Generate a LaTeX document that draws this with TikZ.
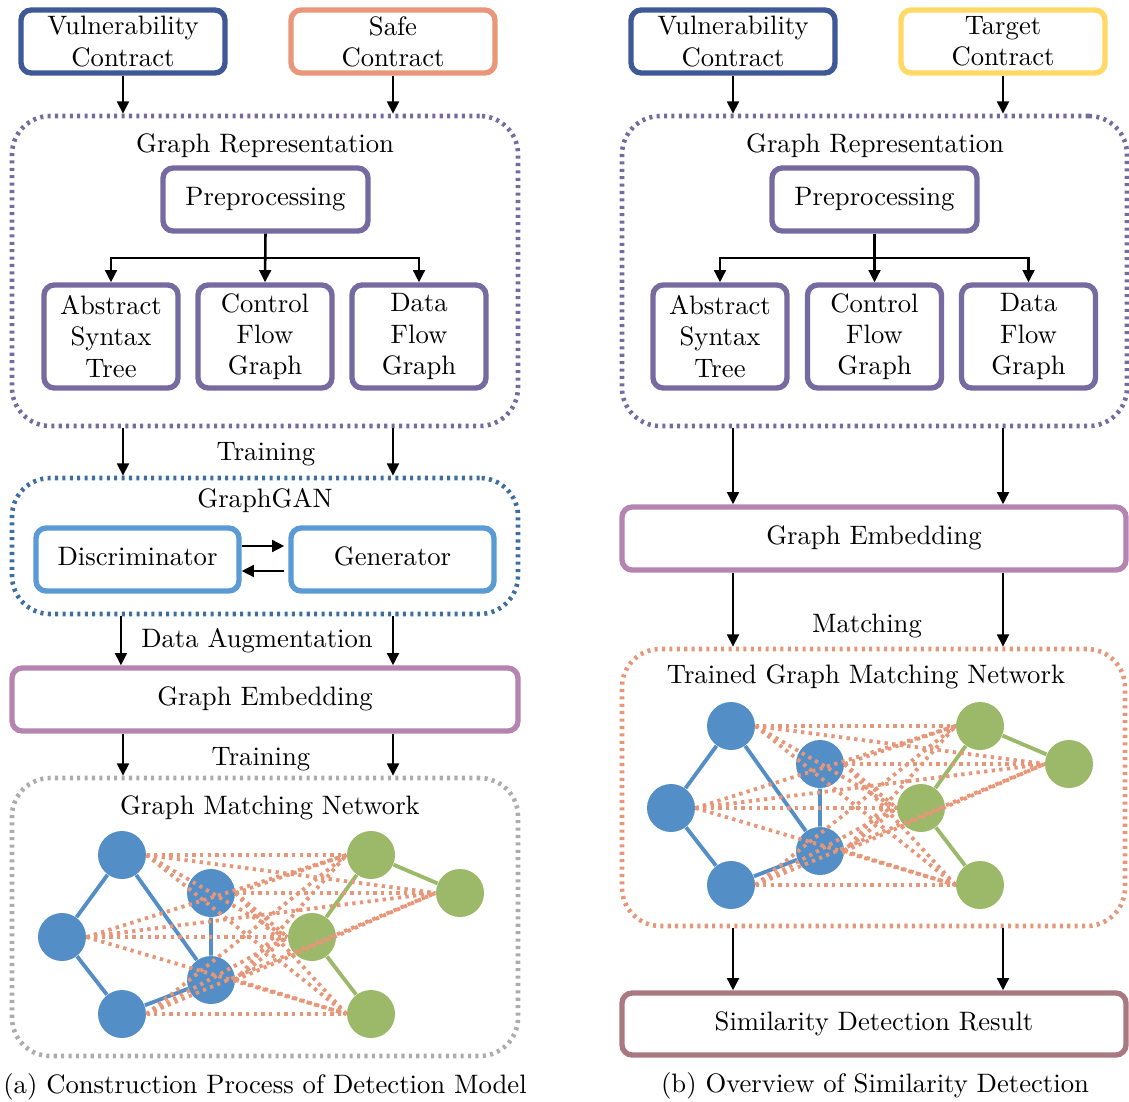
\documentclass[tikz,border=0pt]{standalone}
\usetikzlibrary{arrows.meta}

\definecolor{vulnblue}{RGB}{62,89,150}
\definecolor{safeorange}{RGB}{233,150,122}
\definecolor{targetyellow}{RGB}{255,217,102}
\definecolor{reppurple}{RGB}{118,107,160}
\definecolor{ganblue}{RGB}{62,110,160}
\definecolor{discblue}{RGB}{91,155,213}
\definecolor{embpink}{RGB}{181,132,176}
\definecolor{gmngray}{RGB}{172,172,172}
\definecolor{trainorange}{RGB}{232,150,120}
\definecolor{resultmauve}{RGB}{170,120,128}
\definecolor{nodeblue}{RGB}{83,142,198}
\definecolor{nodegreen}{RGB}{155,185,105}

% one drawing unit
\newlength\pxl
\setlength\pxl{0.392pt}

\tikzset{
  box/.style={draw, line width=2.1pt, rounded corners=4pt, fill=white, align=center,
    inner sep=0pt, text height=7pt, text depth=2pt},
  mlbox/.style={draw, line width=2.1pt, rounded corners=4pt, fill=white, align=center,
    inner sep=0pt},
  group/.style={draw, line width=1.8pt, rounded corners=15pt, fill=white,
    dash pattern=on 1.2pt off 1.7pt, inner sep=0pt},
  arr/.style={line width=1pt, -{Triangle[length=4.8pt,width=4.6pt]}},
  lbl/.style={anchor=base, inner sep=0pt},
  bnode/.style={circle, fill=nodeblue, inner sep=0pt, minimum size=48*\pxl},
  gnode/.style={circle, fill=nodegreen, inner sep=0pt, minimum size=48*\pxl},
  bedge/.style={draw=nodeblue, line width=1.5pt},
  gedge/.style={draw=nodegreen, line width=1.5pt},
  medge/.style={draw=trainorange, line width=1.5pt, dash pattern=on 1.3pt off 1.7pt},
}

% matching network graph: name prefix, x offset, y offset
\newcommand\matchnet[3]{%
  \begin{scope}[shift={(#2,#3)}]
    \node[bnode] (#1b1) at (122,855) {};
    \node[bnode] (#1b2) at (62,937) {};
    \node[bnode] (#1b3) at (122,1014) {};
    \node[bnode] (#1b4) at (211,893) {};
    \node[bnode] (#1b5) at (211,980) {};
    \node[gnode] (#1g1) at (371,855) {};
    \node[gnode] (#1g2) at (460,893) {};
    \node[gnode] (#1g3) at (312,937) {};
    \node[gnode] (#1g4) at (371,1014) {};
    \draw[bedge] (#1b1) -- (#1b2) (#1b2) -- (#1b3) (#1b1) -- (#1b5)
                 (#1b4) -- (#1b5) (#1b3) -- (#1b5);
    \draw[gedge] (#1g1) -- (#1g2) (#1g1) -- (#1g3) (#1g3) -- (#1g4);
    \foreach \b in {1,...,5}{
      \foreach \g in {1,...,4}{
        \draw[medge] (#1b\b.east) -- (#1g\g.west);
      }
    }
  \end{scope}}

\begin{document}
\begin{tikzpicture}[x=0.392pt, y=-0.392pt, font=\fontsize{10.45}{12.2}\selectfont]
\useasboundingbox (0,0) rectangle (1129,1101);

%% ---------------- (a) construction of the detection model ----------------
\node[mlbox, draw=vulnblue, minimum width=204*\pxl, minimum height=63*\pxl] (vcA) at (123,41.5) {Vulnerability\\Contract};
\node[mlbox, draw=safeorange, minimum width=204*\pxl, minimum height=63*\pxl] (sc) at (393,41.5) {Safe\\Contract};

\node[group, draw=reppurple, minimum width=506*\pxl, minimum height=310*\pxl] (grA) at (265,271) {};
\node[lbl] (grAt) at (265,152) {Graph Representation};
\node[box, draw=reppurple, minimum width=205*\pxl, minimum height=63*\pxl] (preA) at (265.5,199.5) {Preprocessing};
\node[mlbox, draw=reppurple, minimum width=134*\pxl, minimum height=103*\pxl] (astA) at (111,336.5) {Abstract\\Syntax\\Tree};
\node[mlbox, draw=reppurple, minimum width=134*\pxl, minimum height=103*\pxl] (cfgA) at (265,336.5) {Control\\Flow\\Graph};
\node[mlbox, draw=reppurple, minimum width=134*\pxl, minimum height=103*\pxl] (dfgA) at (419,336.5) {Data\\Flow\\Graph};
\coordinate (brA) at (265.5,258);
\draw[arr] (preA.south) -- (cfgA.north);
\draw[arr] (brA) -| (astA.north);
\draw[arr] (brA) -| (dfgA.north);

\draw[arr] (vcA.south) -- (vcA.south |- grA.north);
\draw[arr] (sc.south) -- (sc.south |- grA.north);

\node[group, draw=ganblue, minimum width=506*\pxl, minimum height=136*\pxl] (gan) at (265,546) {};
\node[lbl] (gant) at (265,507) {GraphGAN};
\node[box, draw=discblue, minimum width=203*\pxl, minimum height=63*\pxl] (disc) at (137.5,559.5) {Discriminator};
\node[box, draw=discblue, minimum width=203*\pxl, minimum height=63*\pxl] (gen) at (392.5,559.5) {Generator};
\draw[arr, shorten >=4*\pxl] ([yshift=5.3pt]disc.east) -- ([yshift=5.3pt]gen.west);
\draw[arr, shorten <=4*\pxl] ([yshift=-4.5pt]gen.west) -- ([yshift=-4.5pt]disc.east);

\node[lbl] (trA1) at (266,460) {Training};
\draw[arr] (grA.south -| vcA.south) -- (gan.north -| vcA.south);
\draw[arr] (grA.south -| sc.south) -- (gan.north -| sc.south);

\node[box, draw=embpink, minimum width=506*\pxl, minimum height=63*\pxl] (embA) at (265,699.5) {Graph Embedding};
\node[lbl] (aug) at (257,647) {Data Augmentation};
\draw[arr] ([xshift=-0.8pt]gan.south -| vcA.south) -- ([xshift=-0.8pt]embA.north -| vcA.south);
\draw[arr] (gan.south -| sc.south) -- (embA.north -| sc.south);

\node[group, draw=gmngray, minimum width=506*\pxl, minimum height=278*\pxl] (gmn) at (265,917) {};
\node[lbl] (gmnt) at (270,814) {Graph Matching Network};
\node[lbl] (trA2) at (261,765) {Training};
\draw[arr] (embA.south -| vcA.south) -- (gmn.north -| vcA.south);
\draw[arr] (embA.south -| sc.south) -- (gmn.north -| sc.south);
\matchnet{L}{0}{0}

\node[lbl] (capA) at (265,1093) {(a) Construction Process of Detection Model};

%% ---------------- (b) similarity detection ----------------
\node[mlbox, draw=vulnblue, minimum width=204*\pxl, minimum height=63*\pxl] (vcB) at (733,41.5) {Vulnerability\\Contract};
\node[mlbox, draw=targetyellow, minimum width=204*\pxl, minimum height=63*\pxl] (tc) at (1003,41.5) {Target\\Contract};

\node[group, draw=reppurple, minimum width=505*\pxl, minimum height=310*\pxl] (grB) at (874.5,271) {};
\node[lbl] (grBt) at (875,152) {Graph Representation};
\node[box, draw=reppurple, minimum width=205*\pxl, minimum height=63*\pxl] (preB) at (874.5,199.5) {Preprocessing};
\node[mlbox, draw=reppurple, minimum width=134*\pxl, minimum height=103*\pxl] (astB) at (720,336.5) {Abstract\\Syntax\\Tree};
\node[mlbox, draw=reppurple, minimum width=134*\pxl, minimum height=103*\pxl] (cfgB) at (874.5,336.5) {Control\\Flow\\Graph};
\node[mlbox, draw=reppurple, minimum width=134*\pxl, minimum height=103*\pxl] (dfgB) at (1028.5,336.5) {Data\\Flow\\Graph};
\coordinate (brB) at (874.5,258);
\draw[arr] (preB.south) -- (cfgB.north);
\draw[arr] (brB) -| (astB.north);
\draw[arr] (brB) -| (dfgB.north);

\draw[arr] (vcB.south) -- (vcB.south |- grB.north);
\draw[arr] (tc.south) -- (tc.south |- grB.north);

\node[box, draw=embpink, minimum width=504*\pxl, minimum height=63*\pxl] (embB) at (874,538.5) {Graph Embedding};
\draw[arr] (grB.south -| vcB.south) -- (embB.north -| vcB.south);
\draw[arr] (grB.south -| tc.south) -- (embB.north -| tc.south);

\node[group, draw=trainorange, minimum width=503*\pxl, minimum height=277*\pxl] (tgmn) at (873.5,787.5) {};
\node[lbl] (tgmnt) at (866,683) {Trained Graph Matching Network};
\node[lbl] (match) at (867,632) {Matching};
\draw[arr] (embB.south -| vcB.south) -- (tgmn.north -| vcB.south);
\draw[arr] (embB.south -| tc.south) -- (tgmn.north -| tc.south);
\matchnet{R}{609}{-129}

\node[box, draw=resultmauve, minimum width=504*\pxl, minimum height=62*\pxl] (res) at (874,1024) {Similarity Detection Result};
\draw[arr] (tgmn.south -| vcB.south) -- (res.north -| vcB.south);
\draw[arr] (tgmn.south -| tc.south) -- (res.north -| tc.south);

\node[lbl] (capB) at (875,1092) {(b) Overview of Similarity Detection};
\end{tikzpicture}
\end{document}
